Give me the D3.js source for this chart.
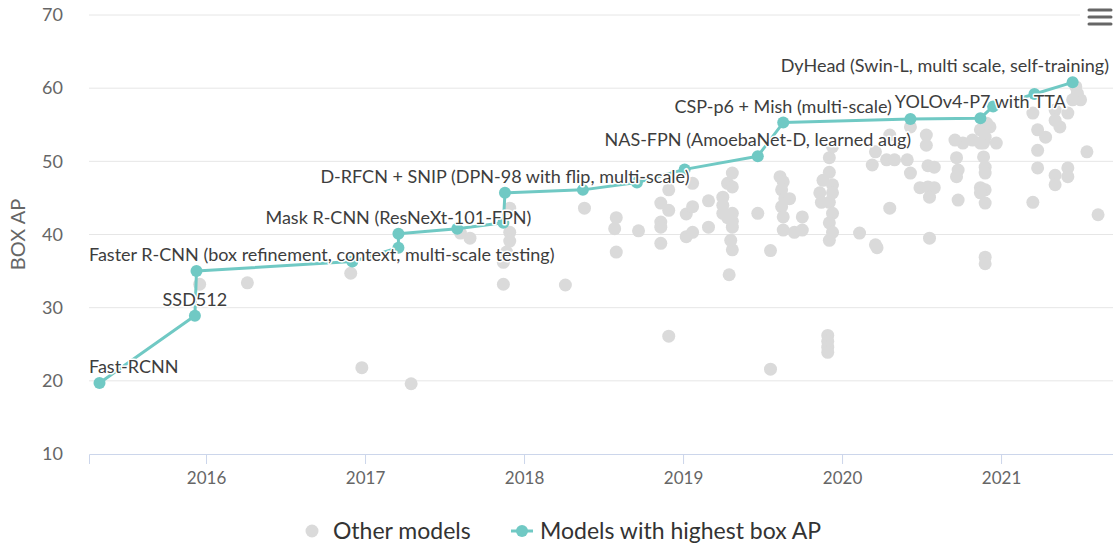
<!DOCTYPE html>
<html>
<head>
<meta charset="utf-8">
<script src="https://cdn.jsdelivr.net/npm/d3@7"></script>
<style>
  body { margin: 0; background: #fff; }
  svg { display: block; font-family: Lato, "Open Sans", sans-serif; }
</style>
</head>
<body>
<div id="chart"></div>
<script>
// axis ticks
const xTicks = [2016, 2017, 2018, 2019, 2020, 2021];
const yTicks = [10, 20, 30, 40, 50, 60, 70];

// best-so-far models: date (fractional year), box AP, label
const bestYears = [2015.33, 2015.93, 2015.94, 2016.92, 2017.21, 2017.21, 2017.58, 2017.87, 2017.88,
    2018.37, 2018.71, 2019.01, 2019.47, 2019.63, 2020.43, 2020.87, 2020.95, 2021.21, 2021.45];
const bestAP = [19.7, 28.9, 35.0, 36.3, 38.2, 40.1, 40.8, 41.6, 45.7,
    46.1, 47.1, 48.9, 50.7, 55.3, 55.8, 55.9, 57.5, 59.2, 60.8];
const bestLabels = ["Fast-RCNN", "SSD512", "Faster R-CNN (box refinement, context, multi-scale testing)", "", "",
    "Mask R-CNN (ResNeXt-101-FPN)", "", "", "D-RFCN + SNIP (DPN-98 with flip, multi-scale)",
    "", "", "", "NAS-FPN (AmoebaNet-D, learned aug)", "CSP-p6 + Mish (multi-scale)", "",
    "YOLOv4-P7 with TTA", "", "", "DyHead (Swin-L, multi scale, self-training)"];

// other models: [date, box AP]
const otherModels = [
    [2015.96, 33.2], [2016.26, 33.4], [2016.91, 34.7], [2016.98, 21.8], [2017.29, 19.6],
    [2017.87, 33.2], [2017.87, 36.2], [2018.26, 33.1], [2018.58, 37.6], [2019.31, 37.9],
    [2019.29, 34.5], [2019.55, 37.8], [2020.22, 38.2], [2020.90, 36.9], [2020.90, 36.0],
    [2018.91, 26.1], [2019.55, 21.6], [2019.91, 26.2], [2019.91, 25.4], [2019.91, 24.6], [2019.91, 23.9],
    [2017.60, 40.2], [2017.66, 39.5], [2017.91, 43.6], [2017.91, 40.3], [2017.91, 39.1], [2017.89, 37.6],
    [2018.38, 43.6], [2018.58, 42.3], [2018.57, 40.8], [2018.72, 40.5], [2018.86, 44.3], [2018.91, 43.3],
    [2018.86, 41.7], [2018.86, 41.0], [2018.86, 38.8], [2018.91, 46.1], [2019.06, 47.0], [2019.02, 42.8],
    [2019.06, 43.8], [2019.02, 39.7], [2019.06, 40.3], [2019.16, 44.6], [2019.16, 41.0], [2019.25, 45.1],
    [2019.25, 44.0], [2019.25, 42.9], [2019.28, 42.3], [2019.31, 42.9], [2019.31, 41.0], [2019.31, 41.8],
    [2019.31, 48.4], [2019.28, 47.0], [2019.31, 46.5], [2019.30, 39.2], [2019.47, 42.9], [2019.61, 47.9],
    [2019.63, 47.2], [2019.62, 46.1], [2019.64, 44.9], [2019.67, 44.9], [2019.62, 43.8], [2019.63, 42.4],
    [2019.63, 40.6], [2019.70, 40.3], [2019.75, 42.4], [2019.75, 40.6], [2019.86, 45.7], [2019.87, 44.4],
    [2019.88, 47.4], [2019.92, 48.5], [2019.94, 46.8], [2019.94, 45.7], [2019.92, 44.4], [2019.94, 42.9],
    [2019.92, 41.6], [2019.94, 40.3], [2019.92, 39.2], [2019.92, 50.5], [2019.94, 52.0], [2020.11, 40.2],
    [2020.19, 49.5], [2020.21, 38.6], [2020.30, 43.6], [2020.21, 51.3], [2020.28, 50.2], [2020.33, 50.2],
    [2020.41, 50.2], [2020.30, 53.6], [2020.43, 54.7], [2020.43, 48.4], [2020.49, 46.4], [2020.54, 46.5],
    [2020.58, 46.4], [2020.55, 45.1], [2020.53, 53.6], [2020.53, 52.2], [2020.54, 49.4], [2020.58, 49.2],
    [2020.55, 39.5], [2020.76, 52.5], [2020.82, 52.9], [2020.89, 52.5], [2020.97, 52.5], [2020.72, 50.5],
    [2020.73, 48.8], [2020.72, 47.9], [2020.73, 44.7], [2020.87, 54.3], [2020.90, 53.3], [2020.93, 54.7],
    [2020.87, 52.5], [2020.89, 50.6], [2020.90, 49.2], [2020.90, 48.4], [2020.87, 46.4], [2020.90, 46.1],
    [2020.87, 45.7], [2020.90, 44.3], [2020.91, 55.2], [2020.71, 52.9], [2021.20, 56.6], [2021.23, 54.3],
    [2021.28, 53.3], [2021.23, 51.5], [2021.23, 49.1], [2021.20, 44.4], [2021.34, 57.0], [2021.34, 55.6],
    [2021.34, 48.1], [2021.34, 46.8], [2021.42, 56.6], [2021.42, 49.1], [2021.42, 47.9], [2021.47, 60.2],
    [2021.48, 59.3], [2021.50, 58.4], [2021.45, 58.4], [2021.37, 54.7], [2021.54, 51.3], [2021.61, 42.7]
];

const width = 1113, height = 547;
const grey = "#dadada", teal = "#70c9c4";
const plot = {left: 89, right: 1113, top: 15, bottom: 454};

const svg = d3.select("#chart").append("svg")
    .attr("width", width)
    .attr("height", height);

const x = d3.scaleLinear()
    .domain([2015.264, 2021.704])
    .range([plot.left, plot.right]);
const y = d3.scaleLinear()
    .domain([10, 70])
    .range([plot.bottom, plot.top]);

// gridlines
svg.append("g")
    .selectAll("line")
    .data(yTicks.filter(d => d > 10))
    .join("line")
    .attr("x1", plot.left).attr("x2", plot.right)
    .attr("y1", d => y(d)).attr("y2", d => y(d))
    .attr("stroke", "#e6e6e6");

// y axis labels
const yAxis = svg.append("g")
    .attr("transform", `translate(${plot.left}, 0)`)
    .call(d3.axisLeft(y).tickValues(yTicks).tickSize(0).tickPadding(26));
yAxis.select(".domain").remove();
yAxis.selectAll("text")
    .attr("fill", "#666").style("font-size", "18px").style("font-family", "Lato");

svg.append("text")
    .attr("transform", `translate(25, ${(plot.top + plot.bottom) / 2}) rotate(-90)`)
    .attr("text-anchor", "middle")
    .attr("fill", "#666")
    .style("font-size", "20px")
    .text("BOX AP");

// x axis
const xAxis = svg.append("g")
    .attr("transform", `translate(0, ${plot.bottom})`)
    .call(d3.axisBottom(x).tickValues(xTicks).tickFormat(d3.format("d")).tickSizeOuter(0).tickSize(10).tickPadding(8));
xAxis.select(".domain").attr("stroke", "#ccd6eb");
xAxis.selectAll(".tick line").attr("stroke", "#ccd6eb");
xAxis.selectAll("text")
    .attr("fill", "#666").style("font-size", "17px").style("font-family", "Lato");

// other models
svg.append("g")
    .selectAll("circle")
    .data(otherModels)
    .join("circle")
    .attr("cx", d => x(d[0]))
    .attr("cy", d => y(d[1]))
    .attr("r", 6.5)
    .attr("fill", grey);

// best models line
const best = bestYears.map((d, i) => ({year: d, ap: bestAP[i], label: bestLabels[i]}));
const line = d3.line()
    .x(d => x(d.year))
    .y(d => y(d.ap));
svg.append("path")
    .datum(best)
    .attr("d", line)
    .attr("fill", "none")
    .attr("stroke", teal)
    .attr("stroke-width", 3)
    .attr("stroke-linejoin", "round");
svg.append("g")
    .selectAll("circle")
    .data(best)
    .join("circle")
    .attr("cx", d => x(d.year))
    .attr("cy", d => y(d.ap))
    .attr("r", 6)
    .attr("fill", teal);

// data labels, kept inside the plot area
const labels = svg.append("g")
    .selectAll("text")
    .data(best.filter(d => d.label))
    .join("text")
    .attr("y", d => y(d.ap) - 10)
    .attr("text-anchor", "middle")
    .attr("fill", "#3d3d3d")
    .attr("stroke", "#fff")
    .attr("stroke-width", 3)
    .attr("stroke-linejoin", "round")
    .style("paint-order", "stroke")
    .style("font-size", "18px")
    .text(d => d.label);
labels.attr("x", function(d) {
    const w = this.getComputedTextLength();
    const cx = x(d.year);
    return Math.max(plot.left + w / 2, Math.min(plot.right - 4 - w / 2, cx));
});

// legend
const legend = svg.append("g").attr("transform", "translate(0, 531)");
legend.append("circle").attr("cx", 312).attr("cy", 0).attr("r", 6.5).attr("fill", grey);
legend.append("text").attr("x", 333).attr("y", 8)
    .attr("fill", "#333").style("font-size", "23px").text("Other models");
legend.append("line").attr("x1", 511).attr("x2", 533).attr("y1", 0).attr("y2", 0)
    .attr("stroke", teal).attr("stroke-width", 3);
legend.append("circle").attr("cx", 522).attr("cy", 0).attr("r", 6).attr("fill", teal);
legend.append("text").attr("x", 540).attr("y", 8)
    .attr("fill", "#333").style("font-size", "23px").text("Models with highest box AP");

// context menu button
const menu = svg.append("g");
menu.append("rect").attr("x", 1080).attr("y", 0).attr("width", 33).attr("height", 32).attr("fill", "#fff");
menu.selectAll("line")
    .data([10, 17, 24])
    .join("line")
    .attr("x1", 1089).attr("x2", 1111)
    .attr("y1", d => d).attr("y2", d => d)
    .attr("stroke", "#666").attr("stroke-width", 3).attr("stroke-linecap", "round");
</script>
</body>
</html>
